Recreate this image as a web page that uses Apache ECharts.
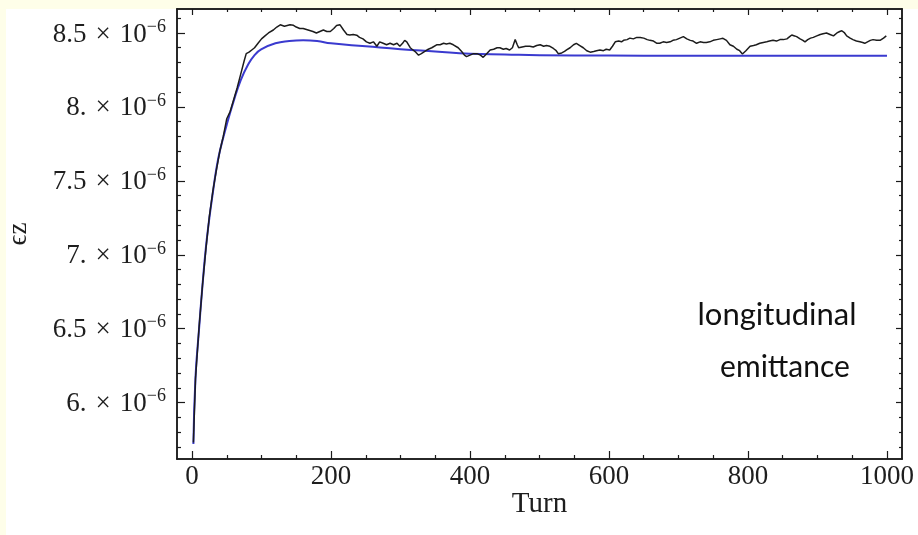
<!DOCTYPE html>
<html><head><meta charset="utf-8">
<script src="https://cdn.jsdelivr.net/npm/echarts@6/dist/echarts.min.js"></script>
<style>html,body{margin:0;padding:0;background:#fefee9}#c{width:918px;height:535px}</style>
</head><body><div id="c"></div>
<script>
// ---- data (values in units of 1e-6) ----
const turnsBlue  = [2,5,10,15,20,25,30,35,40,50,60,70,80,90,100,120,140,160,180,200,250,300,350,400,450,500,600,700,800,1000];
const valuesBlue = [5.72,6.17,6.49,6.79,7.05,7.25,7.42,7.58,7.70,7.88,8.04,8.18,8.28,8.35,8.39,8.43,8.445,8.45,8.445,8.43,8.41,8.39,8.375,8.36,8.355,8.35,8.347,8.346,8.346,8.346];

const turnsBlack  = [2,5,10,15,20,25,30,35,40,45,50,55,60,65,70,75,78,82,86,90,95,100,105,110,117,122,127,133,141,146,150,155,160,167,174,179,184,189,194,199,204,208,213,218,223,227,232,237,241,246,251,256,261,266,270,275,280,285,290,295,299,303,306,309,314,318,322,326,330,335,340,345,352,357,362,366,371,376,383,388,392,395,400,405,410,415,419,424,429,434,439,443,448,452,457,461,465,468,470,475,480,486,491,496,501,506,510,515,520,524,527,532,536,539,544,549,553,558,563,568,573,578,582,587,592,596,601,605,609,614,618,621,626,630,635,640,645,650,655,659,664,669,673,678,683,688,692,697,702,707,712,717,721,726,731,736,740,745,750,755,760,764,769,774,779,784,788,792,797,803,808,812,817,822,827,831,836,841,846,851,856,860,863,867,870,875,879,882,886,890,894,899,904,908,913,918,923,928,932,935,939,942,947,951,956,961,965,968,972,976,980,985,990,995,999];
const valuesBlack = [5.73,6.16,6.50,6.79,7.04,7.26,7.43,7.57,7.70,7.80,7.92,7.97,8.05,8.13,8.22,8.31,8.36,8.37,8.385,8.40,8.43,8.46,8.48,8.50,8.52,8.54,8.555,8.545,8.555,8.552,8.54,8.53,8.53,8.52,8.51,8.50,8.51,8.52,8.51,8.51,8.53,8.55,8.555,8.52,8.49,8.486,8.49,8.485,8.47,8.46,8.44,8.43,8.44,8.41,8.44,8.43,8.42,8.43,8.42,8.43,8.41,8.43,8.45,8.44,8.40,8.385,8.37,8.35,8.36,8.375,8.39,8.40,8.42,8.42,8.43,8.425,8.43,8.42,8.40,8.375,8.35,8.34,8.35,8.36,8.36,8.35,8.335,8.36,8.385,8.39,8.40,8.40,8.39,8.395,8.385,8.40,8.455,8.42,8.40,8.405,8.41,8.41,8.405,8.415,8.42,8.41,8.415,8.41,8.395,8.38,8.36,8.365,8.375,8.385,8.40,8.42,8.43,8.415,8.40,8.38,8.37,8.375,8.38,8.385,8.38,8.39,8.385,8.41,8.44,8.445,8.44,8.45,8.455,8.465,8.46,8.47,8.47,8.465,8.455,8.45,8.445,8.43,8.43,8.44,8.435,8.44,8.45,8.455,8.465,8.475,8.46,8.45,8.445,8.43,8.44,8.435,8.435,8.44,8.45,8.455,8.46,8.464,8.45,8.42,8.41,8.39,8.38,8.358,8.38,8.41,8.415,8.42,8.43,8.435,8.44,8.445,8.45,8.445,8.455,8.455,8.46,8.475,8.486,8.48,8.475,8.46,8.45,8.44,8.455,8.465,8.47,8.48,8.49,8.495,8.50,8.49,8.48,8.50,8.51,8.515,8.50,8.48,8.465,8.455,8.446,8.44,8.435,8.43,8.44,8.45,8.455,8.45,8.45,8.465,8.48];

const xMajorTicks = [0,200,400,600,800,1000];
const xTickLabels = ['0','200','400','600','800','1000'];
const xMinorTicks = [50,100,150,250,300,350,450,500,550,650,700,750,850,900,950];
const yMajorTicks = [6,6.5,7,7.5,8,8.5];
const yTickLabels = ['6.','6.5','7.','7.5','8.','8.5'];
const yMinorTicks = [5.7,5.8,5.9,6.1,6.2,6.3,6.4,6.6,6.7,6.8,6.9,7.1,7.2,7.3,7.4,7.6,7.7,7.8,7.9,8.1,8.2,8.3,8.4,8.6];

const X_MIN = -21.6, X_MAX = 1021.6, Y_MIN = 5.619, Y_MAX = 8.662;
const INK = '#1a1a1a';
const SERIF = '"Liberation Serif","DejaVu Serif",serif';

function xAxisDef(pos, ticks, len, withLabels, withName) {
  return {
    type:'value', position:pos, min:X_MIN, max:X_MAX,
    axisLine:{show:true, onZero:false, lineStyle:{color:INK, width:1.5}},
    axisTick:{show:true, inside:true, length:len, customValues:ticks, lineStyle:{color:INK, width:1.2}},
    axisLabel:{show:withLabels, customValues:xMajorTicks, margin:4, color:'#1e1e1e', fontFamily:SERIF, fontSize:27,
      formatter:v=>{const i=xMajorTicks.indexOf(v);return i>=0?xTickLabels[i]:'';}},
    splitLine:{show:false},
    name: withName ? 'Turn' : '', nameLocation:'middle', nameGap:31, nameMoveOverlap:false,
    nameTextStyle:{color:'#1e1e1e', fontFamily:SERIF, fontSize:29, verticalAlign:'top'}
  };
}
function yAxisDef(pos, ticks, len, withLabels, withName) {
  return {
    type:'value', position:pos, min:Y_MIN, max:Y_MAX,
    axisLine:{show:true, onZero:false, lineStyle:{color:INK, width:1.5}},
    axisTick:{show:true, inside:true, length:len, customValues:ticks, lineStyle:{color:INK, width:1.2}},
    axisLabel:{show:withLabels, customValues:yMajorTicks, margin:11, color:'#1e1e1e', fontFamily:SERIF,
      formatter:v=>{const i=yMajorTicks.findIndex(t=>Math.abs(t-v)<1e-9);return i>=0?'{a|'+yTickLabels[i]+'\u2004×\u200410}{b|−6}':'';},
      rich:{a:{fontFamily:SERIF,fontSize:27,color:'#1e1e1e',lineHeight:30,verticalAlign:'bottom'},
            b:{fontFamily:SERIF,fontSize:18,color:'#1e1e1e',lineHeight:30,verticalAlign:'top'}}},
    splitLine:{show:false},
    name: withName ? 'ϵz' : '', nameLocation:'middle', nameGap:145, nameRotate:90,
    nameTextStyle:{color:'#1e1e1e', fontFamily:SERIF, fontSize:27}
  };
}

const chart = echarts.init(document.getElementById('c'), null, {renderer:'canvas'});
chart.setOption({
  animation:false,
  backgroundColor:'#fefee9',
  graphic:[
    {type:'rect', z:-10, shape:{x:6,y:9,width:912,height:526}, style:{fill:'#ffffff'}},
    {type:'text', z:10, x:777, y:315, style:{text:'longitudinal', fontFamily:'Lato, "Open Sans", sans-serif', fontSize:31, fill:'#111', align:'center', verticalAlign:'middle'}},
    {type:'text', z:10, x:785, y:367, style:{text:'emittance', fontFamily:'Lato, "Open Sans", sans-serif', fontSize:30, fill:'#111', align:'center', verticalAlign:'middle'}}
  ],
  grid:{left:177, right:16, top:9, bottom:76, containLabel:false, outerBoundsMode:'none'},
  xAxis:[
    xAxisDef('bottom', xMajorTicks, 8, true, true),
    xAxisDef('bottom', xMinorTicks, 4, false, false),
    xAxisDef('top', xMajorTicks, 6, false, false),
    xAxisDef('top', xMinorTicks, 3, false, false)
  ],
  yAxis:[
    yAxisDef('left', yMajorTicks, 8, true, true),
    yAxisDef('left', yMinorTicks, 4, false, false),
    yAxisDef('right', yMajorTicks, 6, false, false),
    yAxisDef('right', yMinorTicks, 3, false, false)
  ],
  series:[
    {type:'line', name:'model', xAxisIndex:0, yAxisIndex:0, smooth:true, showSymbol:false,
     data: turnsBlue.map((t,i)=>[t, valuesBlue[i]]), lineStyle:{color:'#3a3acf', width:2}, z:2},
    {type:'line', name:'simulation', xAxisIndex:0, yAxisIndex:0, showSymbol:false,
     data: turnsBlack.map((t,i)=>[t, valuesBlack[i]]), lineStyle:{color:'#1c1c1c', width:1.5}, z:3}
  ]
});
</script>
</body></html>
